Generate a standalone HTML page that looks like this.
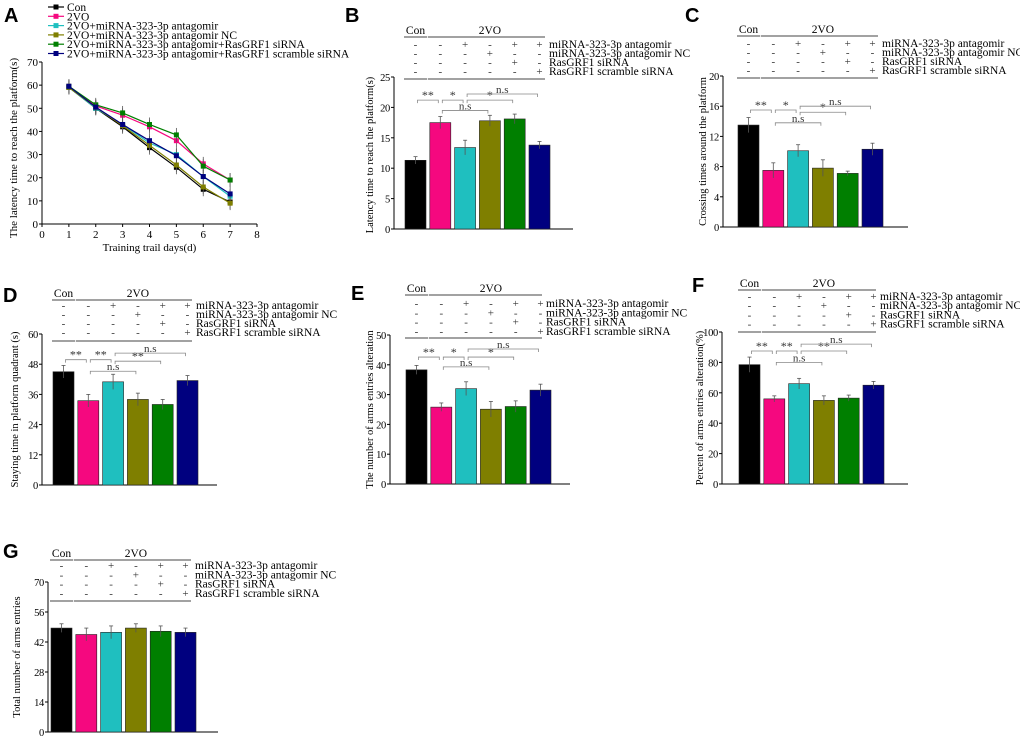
<!DOCTYPE html>
<html><head><meta charset="utf-8"><style>
html,body{margin:0;padding:0;background:#fff}
svg{display:block;font-family:"Liberation Serif",serif}
</style></head><body>
<svg id="fig" width="1020" height="740" viewBox="0 0 1020 740"></svg>
<script>
// ---------- Panel A data ----------
const aDays=[1,2,3,4,5,6,7];
const aSeriesNames=["Con","2VO","2VO+miRNA-323-3p antagomir","2VO+miRNA-323-3p antagomir NC","2VO+miRNA-323-3p antagomir+RasGRF1 siRNA","2VO+miRNA-323-3p antagomir+RasGRF1 scramble siRNA"];
const aCon=[59,50,42,33,24.5,15,9.5];
const a2VO=[59.5,51,47,42,36,26,19];
const aAntag=[59,50,43,35,30,20.5,12];
const aNC=[59,50.5,42.5,34,25.5,16,9];
const aSi=[59.5,51.5,48,43,38.5,25,19];
const aScr=[59.5,50.5,43,36,29.5,20.5,13];
const aErr=[3,3,3,3,3,3,3];
const aYTicks=[0,10,20,30,40,50,60,70];
const aXTicks=[0,1,2,3,4,5,6,7,8];
// ---------- Bar panel data ----------
const barColors=["#000000","#f5087f","#1fbfbf","#7f7f00","#007f00","#00007f"];
const bValues=[11.3,17.5,13.4,17.8,18.1,13.8];
const bErrors=[0.6,1.0,1.2,0.9,0.8,0.6];
const bTicks=[0,5,10,15,20,25];
const cValues=[13.5,7.5,10.1,7.8,7.1,10.3];
const cErrors=[1.0,1.0,0.8,1.1,0.3,0.8];
const cTicks=[0,4,8,12,16,20];
const dValues=[45,33.5,41,34,32,41.5];
const dErrors=[2.5,2.5,3,2.5,2,2];
const dTicks=[0,12,24,36,48,60];
const eValues=[38.3,25.8,32,25.1,26,31.5];
const eErrors=[1.5,1.4,2.3,2.6,1.9,2];
const eTicks=[0,10,20,30,40,50];
const fValues=[78.5,56,66,55,56.5,65];
const fErrors=[5,2,3.5,3,2,2.5];
const fTicks=[0,20,40,60,80,100];
const gValues=[48.5,45.5,46.5,48.5,47,46.5];
const gErrors=[2,3,3,2,2.5,2];
const gTicks=[0,14,28,42,56,70];
const tableLabels=["miRNA-323-3p antagomir","miRNA-323-3p antagomir NC","RasGRF1 siRNA","RasGRF1 scramble siRNA"];
const tableSigns=[["-","-","+","-","+","+"],["-","-","-","+","-","-"],["-","-","-","-","+","-"],["-","-","-","-","-","+"]];
const bSig=[[0,1,21.2,"**"],[1,2,21.2,"*"],[2,4,21.2,"*"],[2,5,22.2,"n.s"],[1,3,19.5,"n.s"]];
const cSig=[[0,1,15.5,"**"],[1,2,15.5,"*"],[2,4,15.2,"*"],[2,5,16,"n.s"],[1,3,13.8,"n.s"]];
const dSig=[[0,1,49.8,"**"],[1,2,49.8,"**"],[2,4,49.2,"**"],[2,5,52.4,"n.s"],[1,3,45.2,"n.s"]];
const eSig=[[0,1,42.6,"**"],[1,2,42.6,"*"],[2,4,42.6,"*"],[2,5,45.3,"n.s"],[1,3,39.3,"n.s"]];
const fSig=[[0,1,87.5,"**"],[1,2,87.5,"**"],[2,4,87.5,"**"],[2,5,92,"n.s"],[1,3,80,"n.s"]];
const gSig=[];

const NS="http://www.w3.org/2000/svg";
const svg=document.getElementById("fig");
function mk(tag,attrs,parent,text){const e=document.createElementNS(NS,tag);for(const k in attrs)e.setAttribute(k,attrs[k]);if(text!==undefined)e.textContent=text;(parent||svg).appendChild(e);return e;}

// ---------- Panel A ----------
(function(){
  const g=mk("g",{});
  
  
  const x0=42,x1=257,y0=224,y1=62;
  const sx=v=>x0+(v-0)/(8-0)*(x1-x0);
  const sy=v=>y0-(v-0)/(70-0)*(y0-y1);
  const L=mk("text",{x:4,y:22,"font-family":"Liberation Sans,sans-serif","font-weight":"bold","font-size":20},g,"A");
  
  mk("line",{x1:x0,y1:y0,x2:x0,y2:y1,stroke:"#000"},g);
  mk("line",{x1:x0,y1:y0,x2:x1,y2:y0,stroke:"#000"},g);
  aYTicks.forEach(t=>{mk("line",{x1:x0-3,y1:sy(t),x2:x0,y2:sy(t),stroke:"#000"},g);
    const tx=mk("text",{x:x0-4,y:sy(t)+4,"text-anchor":"end","font-size":11},g,t);
    });
  aXTicks.forEach(t=>{mk("line",{x1:sx(t),y1:y0,x2:sx(t),y2:y0+3,stroke:"#000"},g);
    const tx=mk("text",{x:sx(t),y:y0+14,"text-anchor":"middle","font-size":11},g,t);
    });
  const yt=mk("text",{x:0,y:0,"text-anchor":"middle","font-size":11,transform:`translate(17,${(y0+y1)/2+5}) rotate(-90)`},g,"The latency time to reach the platform(s)");
  
  const xt=mk("text",{x:(x0+x1)/2,y:y0+27,"text-anchor":"middle","font-size":11},g,"Training trail days(d)");
  
  const series=[aCon,a2VO,aAntag,aNC,aSi,aScr];
  const cols=["#000000","#f5087f","#1fbfbf","#7f7f00","#007f00","#00007f"];
  series.forEach((s,k)=>{
    const pts=aDays.map((d,i)=>sx(d)+","+sy(s[i])).join(" ");
    const pl=mk("polyline",{points:pts,fill:"none",stroke:cols[k],"stroke-width":1.2},g);
    
    aDays.forEach((d,i)=>{
      mk("line",{x1:sx(d),y1:sy(s[i]-aErr[i]),x2:sx(d),y2:sy(s[i]+aErr[i]),stroke:"#555","stroke-width":0.8},g);
      const p=mk("rect",{x:sx(d)-2.5,y:sy(s[i])-2.5,width:5,height:5,fill:cols[k]},g);
      
    });
    const ly=7+k*9.3;
    const le=mk("g",{},g);
    
    mk("line",{x1:48,y1:ly,x2:64,y2:ly,stroke:cols[k],"stroke-width":1.2},le);
    mk("rect",{x:53.5,y:ly-2.5,width:5,height:5,fill:cols[k]},le);
    mk("text",{x:67,y:ly+4,"font-size":11.5},le,aSeriesNames[k]);
  });
})();

// ---------- Bar panels ----------
function barPanel(o,values,errors,ticks,sig){
  const g=mk("g",{});
  
  
  const ymax=ticks[ticks.length-1];
  const sy=v=>o.y0-v/ymax*(o.y0-o.yTop);
  const bx=i=>o.bar0+i*o.step;
  const cx=i=>bx(i)+o.bw/2;
  const L=mk("text",{x:o.lx,y:o.ly,"font-family":"Liberation Sans,sans-serif","font-weight":"bold","font-size":20},g,o.id.toUpperCase());
  
  mk("line",{x1:o.ax,y1:o.y0,x2:o.ax,y2:o.yTop,stroke:"#000"},g);
  mk("line",{x1:o.ax,y1:o.y0,x2:o.axEnd,y2:o.y0,stroke:"#000"},g);
  ticks.forEach(t=>{mk("line",{x1:o.ax-3,y1:sy(t),x2:o.ax,y2:sy(t),stroke:"#000"},g);
    const tx=mk("text",{x:o.ax-4,y:sy(t)+4,"text-anchor":"end","font-size":10.5,"letter-spacing":-0.3},g,t);
    });
  const yt=mk("text",{x:0,y:0,"text-anchor":"middle","font-size":10.5,transform:`translate(${o.tx},${(o.y0+o.yTop)/2+o.tyOff}) rotate(-90)`},g,o.title);
  
  values.forEach((v,i)=>{
    const r=mk("rect",{x:bx(i),y:sy(v),width:o.bw,height:o.y0-sy(v),fill:barColors[i],stroke:"#222","stroke-width":0.6},g);
    
    const e1=sy(v+errors[i]),e2=sy(v-errors[i]);
    mk("line",{x1:cx(i),y1:e1,x2:cx(i),y2:e2,stroke:"#555","stroke-width":0.8},g);
    mk("line",{x1:cx(i)-2,y1:e1,x2:cx(i)+2,y2:e1,stroke:"#555","stroke-width":0.8},g);
  });
  sig.forEach(s=>{
    const y=sy(s[2]);
    const sg=mk("g",{},g);
    
    mk("polyline",{points:`${cx(s[0])+2},${y+3} ${cx(s[0])+2},${y} ${cx(s[1])-2},${y} ${cx(s[1])-2},${y+3}`,fill:"none",stroke:"#888","stroke-width":0.8},sg);
    mk("text",{x:(cx(s[0])+cx(s[1]))/2,y:y-1,"text-anchor":"middle","font-size":s[3]==="n.s"?11:12,fill:"#333"},sg,s[3]);
  });
  const tg=mk("g",{},g);
  
  mk("text",{x:cx(0),y:o.hdr-3,"text-anchor":"middle","font-size":11.5},tg,"Con");
  mk("text",{x:(cx(1)+cx(5))/2,y:o.hdr-3,"text-anchor":"middle","font-size":11.5},tg,"2VO");
  [o.hdr,o.bot].forEach(y=>{
    mk("line",{x1:bx(0)-1,y1:y,x2:bx(0)+o.bw+1,y2:y,stroke:"#444","stroke-width":0.9},tg);
    mk("line",{x1:bx(1)-2,y1:y,x2:o.labX-4,y2:y,stroke:"#444","stroke-width":0.9},tg);
  });
  tableSigns.forEach((row,r)=>{
    const y=o.row0+r*o.rs;
    row.forEach((s,i)=>mk("text",{x:cx(i),y:y+4,"text-anchor":"middle","font-size":11,fill:"#333"},tg,s));
    const lb=mk("text",{x:o.labX,y:y+4,"font-size":11.5},tg,tableLabels[r]);
    
  });
}
barPanel({id:"b",lx:345,ly:22,ax:394,axEnd:573,y0:229,yTop:77,bar0:405,bw:21,step:24.8,tx:373,tyOff:2,title:"Latency time to reach the platform(s)",hdr:37,row0:44,rs:9,bot:79,labX:549},bValues,bErrors,bTicks,bSig);
barPanel({id:"c",lx:685,ly:22,ax:723,axEnd:908,y0:227,yTop:76,bar0:738,bw:21,step:24.8,tx:706,tyOff:0,title:"Crossing times around the platform",hdr:36,row0:43,rs:9,bot:78,labX:882},cValues,cErrors,cTicks,cSig);
barPanel({id:"d",lx:3,ly:302,ax:42,axEnd:217,y0:485,yTop:334,bar0:53,bw:21,step:24.8,tx:18,tyOff:0,title:"Staying time in platform quadrant (s)",hdr:300,row0:305,rs:9,bot:341,labX:196},dValues,dErrors,dTicks,dSig);
barPanel({id:"e",lx:351,ly:300,ax:390,axEnd:570,y0:484,yTop:335,bar0:406,bw:21,step:24.8,tx:373,tyOff:0,title:"The number of arms entries alteration",hdr:295,row0:303,rs:9.3,bot:338,labX:546},eValues,eErrors,eTicks,eSig);
barPanel({id:"f",lx:692,ly:292,ax:722,axEnd:908,y0:484,yTop:332,bar0:739,bw:21,step:24.8,tx:703,tyOff:0,title:"Percent of arms entries alteration(%)",hdr:290,row0:296,rs:9.2,bot:332,labX:880},fValues,fErrors,fTicks,fSig);
barPanel({id:"g",lx:3,ly:558,ax:48,axEnd:218,y0:732,yTop:582,bar0:51,bw:21,step:24.8,tx:20,tyOff:0,title:"Total number of arms entries",hdr:560,row0:565,rs:9.3,bot:601,labX:195},gValues,gErrors,gTicks,gSig);
</script>
</body></html>
